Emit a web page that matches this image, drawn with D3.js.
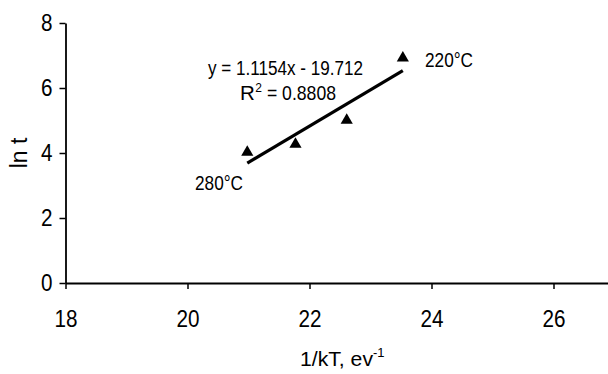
<!DOCTYPE html>
<html>
<head>
<meta charset="utf-8">
<script src="https://cdn.jsdelivr.net/npm/d3@7"></script>
<style>
  html, body { margin: 0; padding: 0; background: #fff; }
  svg { display: block; font-family: "Liberation Sans", Arial, sans-serif; }
</style>
</head>
<body>
<svg id="chart" width="608" height="374"></svg>
<script>
// data
const invKT = [20.98, 21.77, 22.61, 23.53];
const lnT = [4.02, 4.27, 5.01, 6.92];
const xTicks = [18, 20, 22, 24, 26];
const yTicks = [0, 2, 4, 6, 8];
const fitSlope = 1.1154;
const fitIntercept = -19.712;
const eqLabel = 'y = 1.1154x - 19.712';
const r2Value = '0.8808';
const tempLabels = ['280°C', '220°C'];

const width = 608;
const height = 374;
const margin = { top: 23, left: 65.5, bottom: 91 };

const svg = d3.select('#chart');

const x = d3.scaleLinear()
    .domain([18, 28])
    .range([margin.left, margin.left + 610]);

const y = d3.scaleLinear()
    .domain([0, 8])
    .range([height - margin.bottom, margin.top]);

// axes
const xAxis = d3.axisBottom(x)
    .tickValues(xTicks)
    .tickSize(6)
    .tickPadding(21)
    .tickSizeOuter(0);

const yAxis = d3.axisLeft(y)
    .tickValues(yTicks)
    .tickSize(6)
    .tickPadding(7)
    .tickSizeOuter(0);

const gx = svg.append('g')
    .attr('transform', `translate(0, ${y(0)})`)
    .call(xAxis);

const gy = svg.append('g')
    .attr('transform', `translate(${margin.left}, 0)`)
    .call(yAxis);

// narrow, tall tick glyphs as in the source picture
[gx, gy].forEach(g => {
    g.select('.domain').attr('stroke', '#000').attr('stroke-width', 1.8);
    g.selectAll('.tick line').attr('stroke', '#000').attr('stroke-width', 1.5);
    g.selectAll('.tick text')
        .attr('fill', '#000')
        .attr('font-family', '"Liberation Sans", Arial, sans-serif')
        .attr('font-size', 24)
        .attr('textLength', d => String(d).length * 11.5)
        .attr('lengthAdjust', 'spacingAndGlyphs');
});

// axis titles
const xTitle = svg.append('text')
    .attr('x', 300)
    .attr('y', 366)
    .attr('font-size', 21)
    .attr('fill', '#000');
xTitle.append('tspan').attr('textLength', 73).attr('lengthAdjust', 'spacingAndGlyphs').text('1/kT, ev');
xTitle.append('tspan').attr('dy', -9).attr('font-size', 13).text('-1');

svg.append('text')
    .attr('transform', `translate(27, ${(y(0) + y(8)) / 2}) rotate(-90)`)
    .attr('text-anchor', 'middle')
    .attr('font-size', 23)
    .attr('fill', '#000')
    .text('ln t');

// trendline
const xMin = d3.min(invKT);
const xMax = d3.max(invKT);
svg.append('line')
    .attr('x1', x(xMin))
    .attr('y1', y(fitSlope * xMin + fitIntercept))
    .attr('x2', x(xMax))
    .attr('y2', y(fitSlope * xMax + fitIntercept))
    .attr('stroke', '#000')
    .attr('stroke-width', 3.2);

// markers
const tri = d3.symbol().type(d3.symbolTriangle).size(64);
svg.append('g')
    .selectAll('path')
    .data(invKT.map((v, i) => ({ x: v, y: lnT[i] })))
    .join('path')
    .attr('d', tri)
    .attr('transform', d => `translate(${x(d.x)}, ${y(d.y)})`)
    .attr('fill', '#000');

// annotations
svg.append('text')
    .attr('x', 208)
    .attr('y', 75)
    .attr('font-size', 20.5)
    .attr('textLength', 155)
    .attr('lengthAdjust', 'spacingAndGlyphs')
    .attr('fill', '#000')
    .text(eqLabel);

const r2 = svg.append('text')
    .attr('x', 240)
    .attr('y', 100)
    .attr('font-size', 20.5)
    .attr('fill', '#000');
r2.append('tspan').text('R');
r2.append('tspan').attr('dx', 0.5).attr('dy', -8).attr('font-size', 12).text('2');
r2.append('tspan').attr('dy', 8).attr('textLength', 74).attr('lengthAdjust', 'spacingAndGlyphs').text(' = ' + r2Value);

svg.append('text')
    .attr('x', 195)
    .attr('y', 190)
    .attr('font-size', 20)
    .attr('textLength', 48)
    .attr('lengthAdjust', 'spacingAndGlyphs')
    .attr('fill', '#000')
    .text(tempLabels[0]);

svg.append('text')
    .attr('x', 425)
    .attr('y', 67)
    .attr('font-size', 20)
    .attr('textLength', 48)
    .attr('lengthAdjust', 'spacingAndGlyphs')
    .attr('fill', '#000')
    .text(tempLabels[1]);
</script>
</body>
</html>
